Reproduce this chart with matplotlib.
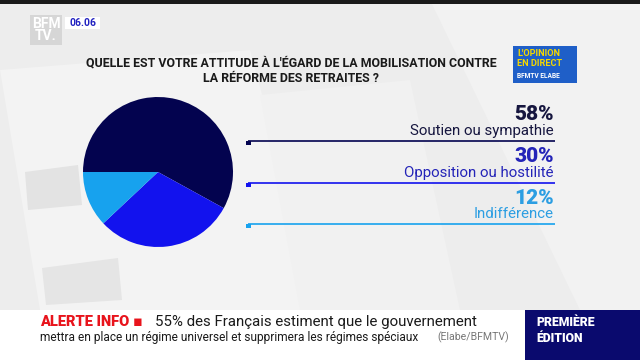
import matplotlib
matplotlib.use("Agg")
import matplotlib.pyplot as plt
from matplotlib.patches import Rectangle, Polygon

# data
labels = ["Soutien ou sympathie", "Opposition ou hostilité", "Indifférence"]
values = [58, 30, 12]
slice_colors = ["#03034f", "#1212ee", "#17a2ee"]
text_colors = ["#16163f", "#2424b8", "#2c9ee2"]

title_lines = ["QUELLE EST VOTRE ATTITUDE À L'ÉGARD DE LA MOBILISATION CONTRE",
               "LA RÉFORME DES RETRAITES ?"]
ticker_head = "ALERTE INFO ▪"
ticker_1 = "55% des Français estiment que le gouvernement"
ticker_2 = "mettra en place un régime universel et supprimera les régimes spéciaux"
ticker_src = "(Elabe/BFMTV)"

fam = ["Roboto", "DejaVu Sans"]

fig = plt.figure(figsize=(6.4, 3.6), dpi=100)
fig.patch.set_facecolor("#ededed")

# whole-frame axes in pixel coords (y down)
bg = fig.add_axes([0, 0, 1, 1])
bg.set_xlim(0, 640)
bg.set_ylim(360, 0)
bg.axis("off")

# faint watermark shapes (big BFM letters behind)
for pts, c in [
    ([(0, 70), (250, 50), (320, 310), (40, 310)], "#f3f3f3"),
    ([(260, 95), (410, 80), (460, 310), (300, 310)], "#f1f1f1"),
    ([(430, 0), (640, 0), (640, 310), (580, 310)], "#f2f2f2"),
    ([(25, 172), (78, 165), (82, 205), (28, 210)], "#e3e3e3"),
    ([(42, 268), (118, 258), (122, 300), (46, 305)], "#e5e5e5"),
]:
    bg.add_patch(Polygon(pts, closed=True, color=c, lw=0, zorder=0))

bg.add_patch(Rectangle((0, 0), 640, 4, color="#1a1a1a", lw=0))

# channel logo + clock
bg.text(46, 30, "BFM\nTV.", ha="center", va="center", fontsize=10, fontweight="bold",
        color="white", family=fam, linespacing=0.85,
        bbox=dict(boxstyle="square,pad=0.1", fc="#c8c8c8", ec="none", alpha=0.6))
bg.add_patch(Rectangle((65, 17), 35, 12, color="white", lw=0))
bg.text(82.5, 23.5, "06.06", ha="center", va="center", fontsize=7.5, fontweight="bold",
        color="#2020c0", family=fam)

# question
for i, line in enumerate(title_lines):
    bg.text(291, 63 + i * 15, line, ha="center", va="center", fontsize=8.9,
            fontweight="bold", color="#1a1a1a", family=fam)

# opinion en direct badge
bg.add_patch(Rectangle((513, 46), 64, 37, color="#1f5fc8", lw=0))
bg.text(517, 53, "L'OPINION", fontsize=6.6, fontweight="bold", color="#f5d800",
        va="center", family=fam)
bg.text(517, 64, "EN DIRECT", fontsize=6.6, fontweight="bold", color="#f5d800",
        va="center", family=fam)
bg.text(517, 76, "BFMTV ELABE", fontsize=4.8, fontweight="bold", color="white",
        va="center", family=fam)

# legend rows
row_pct_y = [115, 157, 198]
for i, (lab, v) in enumerate(zip(labels, values)):
    y0 = row_pct_y[i]
    bg.text(554, y0, f"{v}%", ha="right", va="center", fontsize=15, fontweight="heavy",
            color=text_colors[i], family=fam)
    bg.text(554, y0 + 16, lab, ha="right", va="center", fontsize=10.8,
            color=text_colors[i], family=fam)
    ly = y0 + 26
    bg.plot([248, 555], [ly, ly], color=slice_colors[i], lw=1.2, solid_capstyle="butt")
    bg.add_patch(Rectangle((246, ly), 5, 4, color=slice_colors[i], lw=0))

# pie
cx, cy, r = 158, 172, 75
pax = fig.add_axes([(cx - r) / 640, (360 - cy - r) / 360, 2 * r / 640, 2 * r / 360])
pax.pie(values, colors=slice_colors, startangle=180, counterclock=False,
        wedgeprops=dict(linewidth=0))
pax.set_xlim(-1, 1)
pax.set_ylim(-1, 1)
pax.axis("off")

# ticker band
bg.add_patch(Rectangle((0, 310), 640, 50, color="white", lw=0, zorder=1))
bg.text(40, 322, ticker_head, fontsize=10.5, fontweight="heavy", color="#e8141c",
        va="center", family=fam, zorder=2)
bg.text(155, 322, ticker_1, fontsize=10.8, color="#1a1a1a", va="center",
        family=fam, zorder=2)
bg.text(40, 337, ticker_2, fontsize=8.6, color="#1a1a1a", va="center",
        family=fam, zorder=2)
bg.text(437, 337, ticker_src, fontsize=7.6, color="#777777", va="center",
        family=fam, zorder=2)
bg.add_patch(Rectangle((525, 310), 115, 50, color="#0a0a6e", lw=0, zorder=1))
bg.text(536, 323, "PREMIÈRE", fontsize=8.8, fontweight="heavy", color="white",
        va="center", family=fam, zorder=2)
bg.text(536, 338, "ÉDITION", fontsize=8.8, fontweight="heavy", color="white",
        va="center", family=fam, zorder=2)

fig.savefig("out.png", dpi=100, facecolor=fig.get_facecolor())
